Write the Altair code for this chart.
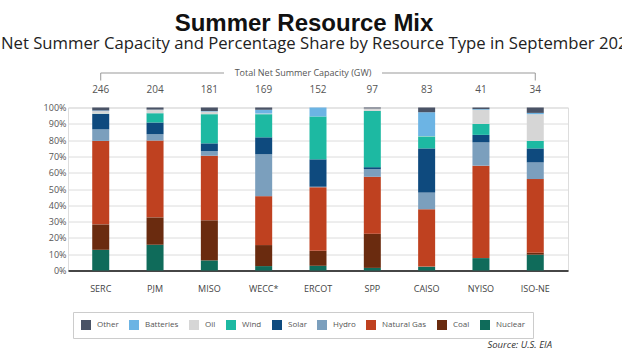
import altair as alt
import pandas as pd

regions = ["SERC", "PJM", "MISO", "WECC*", "ERCOT", "SPP", "CAISO", "NYISO", "ISO-NE"]
capacity_gw = [246, 204, 181, 169, 152, 97, 83, 41, 34]

# stack order bottom -> top
resources = ["Nuclear", "Coal", "Natural Gas", "Hydro", "Solar", "Wind", "Oil", "Batteries", "Other"]
legend_order = ["Other", "Batteries", "Oil", "Wind", "Solar", "Hydro", "Natural Gas", "Coal", "Nuclear"]
colors = {
    "Other": "#4a5366",
    "Batteries": "#6cb4e4",
    "Oil": "#d6d6d6",
    "Wind": "#1db9a2",
    "Solar": "#0e4a7e",
    "Hydro": "#7b9fbd",
    "Natural Gas": "#bf4120",
    "Coal": "#6a2b0f",
    "Nuclear": "#0f6b5a",
}

# percentage shares per region (order: SERC ... ISO-NE)
nuclear     = [12.7, 15.8,  6.2,  2.7,  2.9,  1.6,  2.3,  7.6,  9.7]
coal        = [15.6, 16.8, 24.6, 12.9,  9.2, 21.0,  0.1,  0.0,  1.2]
natural_gas = [51.2, 47.1, 39.6, 30.0, 39.0, 34.9, 35.2, 56.7, 45.2]
hydro       = [ 7.1,  3.9,  2.9, 25.7,  0.3,  4.7, 10.2, 14.3, 10.2]
solar       = [ 9.4,  7.2,  4.7, 10.4, 16.8,  1.2, 27.1,  4.6,  8.6]
wind        = [ 0.2,  5.7, 17.9, 14.2, 26.3, 34.5,  7.4,  6.7,  4.6]
oil         = [ 1.6,  2.1,  1.6,  0.4,  0.0,  1.5,  0.2,  8.7, 16.4]
batteries   = [ 0.4,  0.1,  0.3,  2.3,  5.5,  0.0, 14.6,  0.4,  0.8]
other       = [ 1.8,  1.3,  2.2,  1.4,  0.0,  0.6,  2.9,  1.0,  3.3]

series = {
    "Nuclear": nuclear, "Coal": coal, "Natural Gas": natural_gas, "Hydro": hydro,
    "Solar": solar, "Wind": wind, "Oil": oil, "Batteries": batteries, "Other": other,
}

title_text = "Summer Resource Mix"
subtitle_text = "Net Summer Capacity and Percentage Share by Resource Type in September 2023"
header_text = "Total Net Summer Capacity (GW)"
source_text = "Source: U.S. EIA"

rows = []
for res_i, res in enumerate(resources):
    for reg, v in zip(regions, series[res]):
        rows.append({"region": reg, "resource": res, "share": v, "idx": res_i})
df = pd.DataFrame(rows)
cap_df = pd.DataFrame({"region": regions, "cap": capacity_gw})

FONT = "Open Sans"

xscale = alt.Scale(domain=regions, paddingInner=0.687, paddingOuter=0.446)

bars = alt.Chart(df).mark_bar().encode(
    x=alt.X("region:N", scale=xscale, title=None,
            axis=alt.Axis(labelAngle=0, ticks=False, labelPadding=14, labelFontSize=9,
                          labelColor="#444", domainColor="#111", domainWidth=1.5,
                          labelFont=FONT)),
    y=alt.Y("share:Q", stack="normalize", title=None,
            scale=alt.Scale(domain=[0, 1], nice=False),
            axis=alt.Axis(format=".0%", values=[i / 10 for i in range(11)], ticks=False,
                          domain=False, labelPadding=2, labelFontSize=9, labelColor="#555",
                          gridColor="#dcdcdc", gridWidth=1, labelFont=FONT)),
    color=alt.Color("resource:N",
                    scale=alt.Scale(domain=legend_order, range=[colors[k] for k in legend_order]),
                    legend=alt.Legend(title=None, orient="none", legendX=5, legendY=204.5,
                                      direction="horizontal", symbolType="square",
                                      symbolSize=100, symbolStrokeWidth=0, labelFontSize=8,
                                      labelColor="#555", labelFont=FONT, labelOffset=6,
                                      columnPadding=10, padding=8, strokeColor="#cccccc")),
    order=alt.Order("idx:Q", sort="ascending"),
)

cap_text = alt.Chart(cap_df).mark_text(fontSize=10, color="#555", font=FONT, baseline="middle").encode(
    x=alt.X("region:N"),
    y=alt.value(-17.5),
    text="cap:N",
)

bracket_df = pd.DataFrame({"a": [regions[0]], "b": [regions[-1]]})
bracket_line = alt.Chart(bracket_df).mark_rule(color="#999", strokeWidth=1).encode(
    x=alt.X("a:N"), x2="b:N", y=alt.value(-34.5))
ends_df = pd.DataFrame({"region": [regions[0], regions[-1]]})
bracket_ends = alt.Chart(ends_df).mark_rule(color="#999", strokeWidth=1).encode(
    x=alt.X("region:N"), y=alt.value(-34.5), y2=alt.value(-27))
gap = alt.Chart(pd.DataFrame({"t": [header_text]})).mark_rect(color="white").encode(
    x=alt.value(156), x2=alt.value(314), y=alt.value(-40), y2=alt.value(-29))
header = alt.Chart(pd.DataFrame({"t": [header_text]})).mark_text(
    fontSize=9, color="#555", font=FONT, baseline="middle", align="center").encode(
    x=alt.value(235), y=alt.value(-34.5), text="t:N")

title = alt.Chart(pd.DataFrame({"t": [title_text]})).mark_text(
    fontSize=24, fontWeight=900, color="#111", font="Liberation Sans", baseline="alphabetic",
    align="center").encode(x=alt.value(236), y=alt.value(-77), text="t:N")
subtitle = alt.Chart(pd.DataFrame({"t": [subtitle_text]})).mark_text(
    fontSize=16.7, color="#222", font=FONT, baseline="alphabetic", align="left").encode(
    x=alt.value(-67), y=alt.value(-59), text="t:N")
source = alt.Chart(pd.DataFrame({"t": [source_text]})).mark_text(
    fontSize=9.5, fontStyle="italic", color="#333", font=FONT, baseline="middle", align="right").encode(
    x=alt.value(484), y=alt.value(237.5), text="t:N")

chart = alt.layer(bars, cap_text, bracket_line, bracket_ends, gap, header, title, subtitle, source).properties(
    width=500, height=163,
    autosize=alt.AutoSizeParams(type="none"),
    padding={"left": 68, "top": 107.5, "right": 54, "bottom": 81.5},
).configure_view(stroke=None).configure(font=FONT, background="white")

chart.save("out.html", embed_options={"renderer": "svg", "actions": False})
